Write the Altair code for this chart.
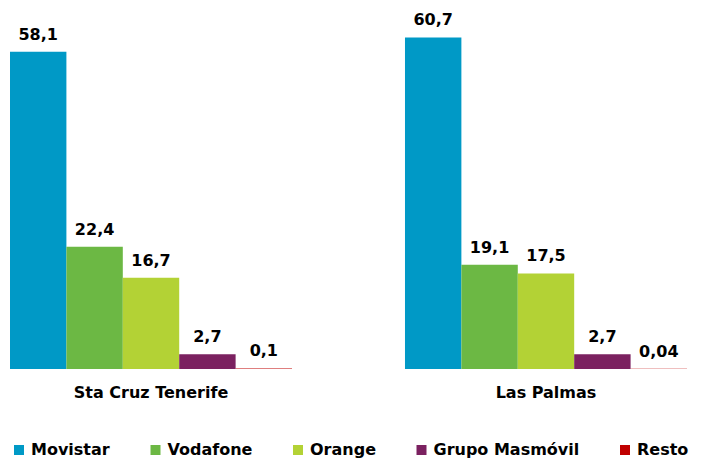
import altair as alt
import pandas as pd

groups = ["Sta Cruz Tenerife", "Las Palmas"]
series = ["Movistar", "Vodafone", "Orange", "Grupo Masmóvil", "Resto"]
colors = ["#0099C6", "#6CB844", "#B3D235", "#7B2160", "#C00000"]
tenerife = [58.1, 22.4, 16.7, 2.7, 0.1]
las_palmas = [60.7, 19.1, 17.5, 2.7, 0.04]

rows = []
for g, vals in zip(groups, [tenerife, las_palmas]):
    for s, v in zip(series, vals):
        rows.append({"group": g, "series": s, "value": v,
                     "label": str(v).replace(".", ",")})
df = pd.DataFrame(rows)

FONT = "DejaVu Sans"

x_enc = alt.X("group:N", sort=groups, title=None,
              scale=alt.Scale(paddingInner=0.286, paddingOuter=0),
              axis=alt.Axis(domain=False, ticks=False, labelAngle=0,
                            labelPadding=15, labelFont=FONT, labelFontSize=16,
                            labelFontWeight="bold", labelColor="black", labelLimit=0))
xo_enc = alt.XOffset("series:N", sort=series, scale=alt.Scale(paddingInner=0, paddingOuter=0))
y_enc = alt.Y("value:Q", scale=alt.Scale(domain=[0, 65], nice=False), axis=None)

bars = alt.Chart(df).mark_bar().encode(
    x=x_enc, xOffset=xo_enc, y=y_enc,
    color=alt.Color("series:N", sort=series,
                    scale=alt.Scale(domain=series, range=colors),
                    legend=alt.Legend(orient="none", legendX=1, legendY=428,
                                      direction="horizontal", title=None,
                                      symbolType="square", symbolSize=100,
                                      symbolStrokeWidth=0, labelFont=FONT,
                                      labelFontSize=16, labelFontWeight="bold",
                                      labelColor="black", columnPadding=37.5,
                                      labelOffset=4, padding=0, labelLimit=0,
                                      columns=5)),
)

texts = alt.Chart(df).mark_text(baseline="alphabetic", dy=-12, font=FONT,
                                fontSize=16, fontWeight="bold", color="black").encode(
    x=x_enc, xOffset=xo_enc, y=y_enc, text="label:N",
)

chart = alt.layer(bars, texts).properties(
    width=677, height=355,
    autosize=alt.AutoSizeParams(type="none"),
    padding={"left": 2, "top": 6, "right": 8, "bottom": 90},
).configure_view(stroke=None)

chart.save("out.html", embed_options={"renderer": "svg", "actions": False})
